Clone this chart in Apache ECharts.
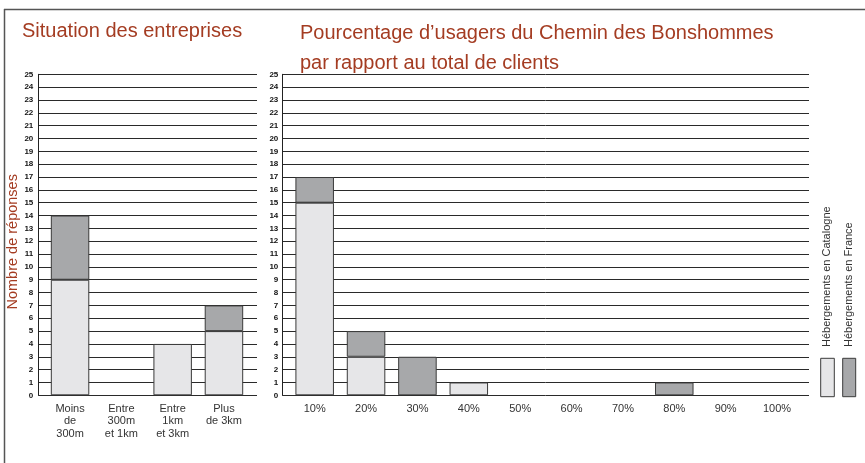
<!DOCTYPE html>
<html>
<head>
<meta charset="utf-8">
<script src="https://cdn.jsdelivr.net/npm/echarts@6/dist/echarts.min.js"></script>
<style>html,body{margin:0;padding:0;background:#fff}#c{width:865px;height:463px}</style>
</head>
<body>
<div id="c"></div>
<script>
var leftCategories = ['Moins\nde\n300m', 'Entre\n300m\net 1km', 'Entre\n1km\net 3km', 'Plus\nde 3km'];
var leftCatalogne = [9, 0, 4, 5];
var leftFrance = [5, 0, 0, 2];
var rightCategories = ['10%', '20%', '30%', '40%', '50%', '60%', '70%', '80%', '90%', '100%'];
var rightCatalogne = [15, 3, 0, 1, 0, 0, 0, 0, 0, 0];
var rightFrance = [2, 2, 3, 0, 0, 0, 0, 1, 0, 0];
var yMin = 0, yMax = 25, yStep = 1;
var seriesNames = ['Hébergements en Catalogne', 'Hébergements en France'];
var titleLeft = 'Situation des entreprises';
var titleRight = 'Pourcentage d\u2019usagers du Chemin des Bonshommes\npar rapport au total de clients';
var yName = 'Nombre de réponses';

(function () {
var RUST = '#a43c22';
var SANS = '"Liberation Sans", Arial, sans-serif';
var NARROW = '"Liberation Sans Narrow", "Arial Narrow", "Liberation Sans", Arial, sans-serif';
var LIGHT = '#e6e6e8', DARK = '#a7a8aa', EDGE = '#3a3a3a';
function nz(a){ return a.map(function(v){ return v === 0 ? '-' : v; }); }

var chart = echarts.init(document.getElementById('c'), null, {renderer: 'canvas'});
var H = 463;
var gTop = 74.3, gBottom = H - 395.3;

function lineYAxis(gridIndex, showName, labelMargin) {
  return {
    type: 'value', gridIndex: gridIndex, min: yMin, max: yMax, interval: yStep,
    axisLine: {show: true, lineStyle: {color: '#222', width: 1}},
    axisTick: {show: false},
    splitLine: {show: true, lineStyle: {color: '#2a2a2a', width: 1}},
    axisLabel: {color: '#111', fontSize: 8, fontWeight: 'bold', fontFamily: NARROW, margin: labelMargin},
    name: showName ? yName : '', nameLocation: 'middle', nameRotate: 90, nameGap: 10,
    nameTextStyle: {color: RUST, fontSize: 14.5, fontFamily: SANS, padding: [0, 14, 6, 0]}
  };
}
function hiddenY(gridIndex) {
  return {type: 'value', gridIndex: gridIndex, min: yMin, max: yMax, interval: yStep, show: false, splitLine: {show: false}};
}
function hiddenX(gridIndex) {
  return {type: 'category', gridIndex: gridIndex, data: [''], show: false};
}
function catX(gridIndex, cats) {
  return {
    type: 'category', gridIndex: gridIndex, data: cats,
    axisLine: {show: false}, axisTick: {show: false},
    axisLabel: {color: '#333', fontSize: 11, lineHeight: 12.5, margin: 7, fontFamily: SANS, interval: 0}
  };
}
function bar(name, data, color, xi, yi, stack) {
  return {
    name: name, type: 'bar', xAxisIndex: xi, yAxisIndex: yi, stack: stack, data: nz(data),
    barWidth: '75%', silent: true,
    itemStyle: {color: color, borderColor: EDGE, borderWidth: 1}
  };
}

var option = {
  animation: false,
  backgroundColor: '#fff',
  title: [
    {text: titleLeft, left: 22, top: 20, padding: 0, textStyle: {color: RUST, fontSize: 20, fontWeight: 'normal', lineHeight: 22, fontFamily: SANS}},
    {text: titleRight, left: 300, top: 18, padding: 0, textStyle: {color: RUST, fontSize: 20, fontWeight: 'normal', lineHeight: 30, fontFamily: SANS}}
  ],
  grid: [
    {left: 38.3, width: 257 - 38.3, top: gTop, bottom: gBottom},
    {left: 44.4, width: 205.2, top: gTop, bottom: gBottom},
    {left: 282.3, width: 809 - 282.3, top: gTop, bottom: gBottom},
    {left: 289.0, width: 513.7, top: gTop, bottom: gBottom}
  ],
  xAxis: [hiddenX(0), catX(1, leftCategories), hiddenX(2), catX(3, rightCategories)],
  yAxis: [lineYAxis(0, true, 5), hiddenY(1), lineYAxis(2, false, 4), hiddenY(3)],
  series: [
    bar(seriesNames[0], leftCatalogne, LIGHT, 1, 1, 'l'),
    bar(seriesNames[1], leftFrance, DARK, 1, 1, 'l'),
    bar(seriesNames[0], rightCatalogne, LIGHT, 3, 3, 'r'),
    bar(seriesNames[1], rightFrance, DARK, 3, 3, 'r')
  ],
  graphic: [
    {type: 'line', shape: {x1: 4, y1: 9.5, x2: 865, y2: 9.5}, style: {stroke: '#555', lineWidth: 1.5}},
    {type: 'line', shape: {x1: 4.5, y1: 9, x2: 4.5, y2: 463}, style: {stroke: '#555', lineWidth: 1.5}},
    {type: 'rect', shape: {x: 820.7, y: 358.3, width: 13.6, height: 38.4}, style: {fill: LIGHT, stroke: EDGE, lineWidth: 1}},
    {type: 'rect', shape: {x: 842.7, y: 358.3, width: 13.0, height: 38.4}, style: {fill: DARK, stroke: EDGE, lineWidth: 1}},
    {type: 'text', x: 827, y: 347, rotation: Math.PI / 2,
      style: {text: seriesNames[0], fill: '#333', fontSize: 11, fontFamily: SANS, textAlign: 'left', textVerticalAlign: 'middle'}},
    {type: 'text', x: 849, y: 347, rotation: Math.PI / 2,
      style: {text: seriesNames[1], fill: '#333', fontSize: 11, fontFamily: SANS, textAlign: 'left', textVerticalAlign: 'middle'}}
  ]
};
chart.setOption(option);
})();
</script>
</body>
</html>
